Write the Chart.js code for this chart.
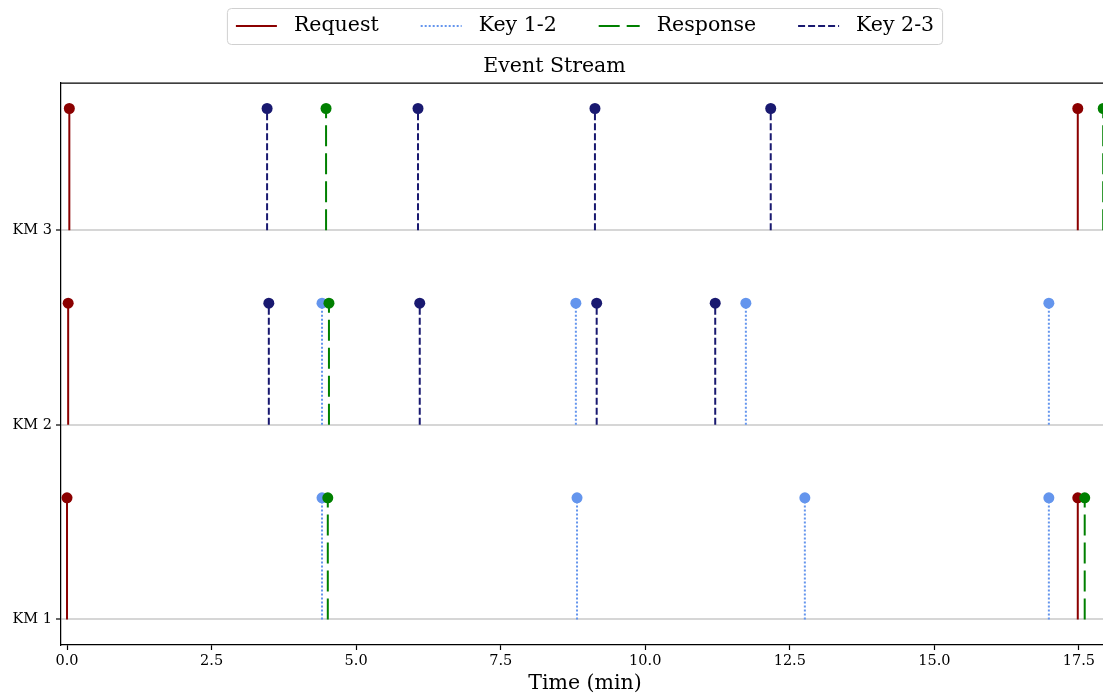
<!DOCTYPE html>
<html>
<head>
<meta charset="utf-8">
<script src="https://cdn.jsdelivr.net/npm/chart.js@4"></script>
<style>
  html, body { margin: 0; padding: 0; background: #fff; }
  #wrap { width: 1103px; height: 696px; overflow: hidden; }
</style>
</head>
<body>
<div id="wrap"><canvas id="eventChart" width="1170" height="696"></canvas></div>
<script>
/* globals Chart:false */

// Rows (y = 1, 2, 3) and the event times per row, in minutes
const rowLabels = ["KM 1", "KM 2", "KM 3"];
const requestTimes = [[0.0, 17.48], [0.02], [0.04, 17.48]];
const key12Times = [[4.41, 8.82, 12.76, 16.98], [4.41, 8.80, 11.74, 16.98], []];
const responseTimes = [[4.51, 17.60], [4.53], [4.48, 17.92]];
const key23Times = [[], [3.49, 6.10, 9.16, 11.21], [3.46, 6.07, 9.13, 12.17]];
const stemHeight = 0.625;
const xTicks = [0, 2.5, 5, 7.5, 10, 12.5, 15, 17.5];

const FONT = "'DejaVu Serif', serif";

// one stem = baseline point, top point, then a gap
function stems(timesPerRow) {
    const pts = [];
    timesPerRow.forEach((times, i) => {
        const row = i + 1;
        times.forEach((t) => {
            pts.push({ x: t, y: row });
            pts.push({ x: t, y: row + stemHeight, top: true });
            pts.push({ x: t, y: null });
        });
    });
    return pts;
}

function stemSet(label, times, color, dash, order) {
    return {
        label: label,
        data: stems(times),
        borderColor: color,
        backgroundColor: color,
        borderWidth: 2,
        borderDash: dash,
        borderCapStyle: "butt",
        pointBackgroundColor: color,
        pointBorderWidth: 0,
        pointRadius: (c) => (c.raw && c.raw.top ? 5.5 : 0),
        pointHoverRadius: 0,
        spanGaps: false,
        tension: 0,
        order: order,
    };
}

// legend with a frame, like matplotlib's
const legendBox = {
    id: "legendBox",
    afterDraw(chart) {
        const ctx = chart.ctx;
        const sets = chart.data.datasets;
        const lineLen = 41, gapText = 17, gapItem = 42, cx = 585, cy = 26;
        ctx.save();
        ctx.font = "20.5px " + FONT;
        const widths = sets.map((d) => ctx.measureText(d.label).width);
        let total = gapItem * (sets.length - 1);
        widths.forEach((w) => { total += lineLen + gapText + w; });
        const x0 = cx - total / 2;
        ctx.beginPath();
        ctx.roundRect(x0 - 8.5, 8.5, total + 17, 36, 4);
        ctx.fillStyle = "rgba(255,255,255,0.8)";
        ctx.fill();
        ctx.strokeStyle = "#d0d0d0";
        ctx.lineWidth = 1;
        ctx.stroke();
        let x = x0;
        sets.forEach((d, i) => {
            ctx.beginPath();
            ctx.setLineDash(d.borderDash || []);
            ctx.strokeStyle = d.borderColor;
            ctx.lineWidth = d.borderWidth;
            ctx.moveTo(x, cy);
            ctx.lineTo(x + lineLen, cy);
            ctx.stroke();
            ctx.setLineDash([]);
            ctx.fillStyle = "#000";
            ctx.textBaseline = "middle";
            ctx.textAlign = "left";
            ctx.fillText(d.label, x + lineLen + gapText, cy);
            x += lineLen + gapText + widths[i] + gapItem;
        });
        ctx.restore();
    },
};

// top and right spines
const frame = {
    id: "frame",
    afterDatasetsDraw(chart) {
        const { ctx, chartArea: a } = chart;
        ctx.save();
        ctx.strokeStyle = "#000";
        ctx.lineWidth = 1.25;
        ctx.beginPath();
        ctx.moveTo(a.left, a.top);
        ctx.lineTo(a.right, a.top);
        ctx.lineTo(a.right, a.bottom);
        ctx.stroke();
        ctx.restore();
    },
};

const ctx = document.getElementById("eventChart");
// eslint-disable-next-line no-unused-vars
const eventChart = new Chart(ctx, {
    type: "line",
    data: {
        datasets: [
            stemSet("Request", requestTimes, "#8b0000", [], 4),
            stemSet("Key 1-2", key12Times, "#6495ed", [2, 2], 3),
            stemSet("Response", responseTimes, "#008000", [21, 7], 2),
            stemSet("Key 2-3", key23Times, "#191970", [7, 3], 1),
        ],
    },
    options: {
        responsive: false,
        animation: false,
        devicePixelRatio: 1,
        layout: { padding: { top: 48, left: 0, right: 61, bottom: 0 } },
        plugins: {
            legend: { display: false },
            tooltip: { enabled: false },
            title: {
                display: true,
                text: "Event Stream",
                color: "#000",
                font: { family: FONT, size: 20.5, weight: "normal", lineHeight: 1.2 },
                padding: { top: 6.7, bottom: 3.7 },
            },
        },
        scales: {
            x: {
                type: "linear",
                min: -0.104,
                max: 18.02,
                afterBuildTicks: (s) => { s.ticks = xTicks.map((v) => ({ value: v })); },
                afterFit: (s) => { s.height = 51; },
                ticks: {
                    color: "#000",
                    font: { family: FONT, size: 14.5 },
                    padding: 3,
                    maxRotation: 0,
                    callback: (v) => Number(v).toFixed(1),
                },
                grid: { drawOnChartArea: false, drawTicks: true, tickLength: 5, tickColor: "#000", tickWidth: 1.2 },
                border: { color: "#000", width: 1.25 },
                title: {
                    display: true,
                    text: "Time (min)",
                    color: "#000",
                    font: { family: FONT, size: 20.5, lineHeight: 1.2 },
                    padding: { top: 0, bottom: 0 },
                },
            },
            y: {
                type: "linear",
                min: 0.869,
                max: 3.756,
                afterBuildTicks: (s) => { s.ticks = rowLabels.map((_, i) => ({ value: i + 1 })); },
                afterFit: (s) => { s.width = 61; },
                ticks: {
                    color: "#000",
                    font: { family: FONT, size: 14.5 },
                    padding: 4,
                    callback: (v) => rowLabels[v - 1],
                },
                grid: { color: "#d6d6d6", lineWidth: 2, drawTicks: true, tickLength: 5, tickColor: "#000", tickWidth: 1.2 },
                border: { color: "#000", width: 1.25 },
            },
        },
    },
    plugins: [frame, legendBox],
});
</script>
</body>
</html>
